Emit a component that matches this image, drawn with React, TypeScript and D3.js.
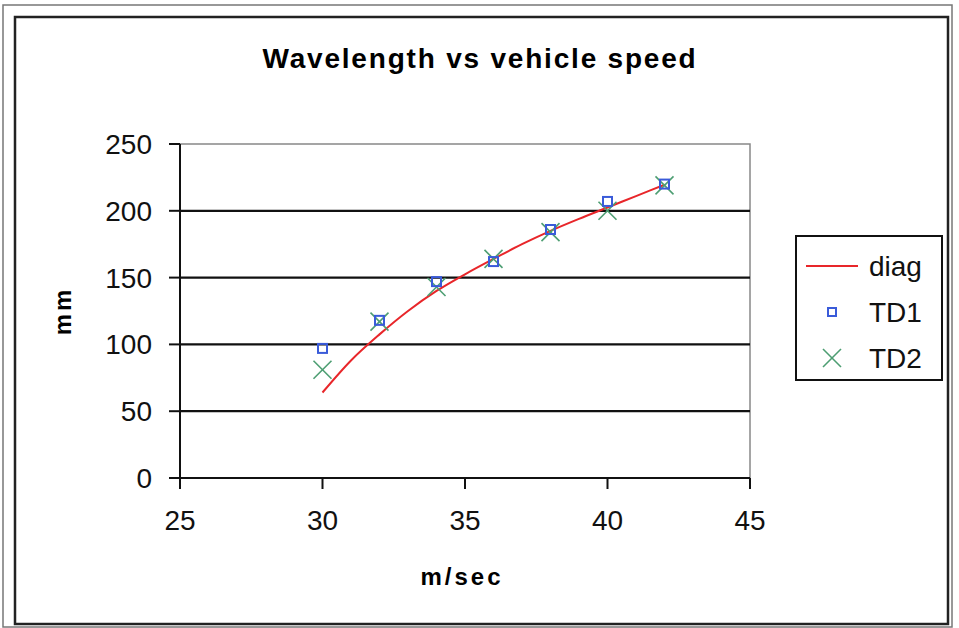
import React from "react";
import * as d3 from "d3";

const xTicks = [25, 30, 35, 40, 45];
const yTicks = [0, 50, 100, 150, 200, 250];

const td1X = [30, 32, 34, 36, 38, 40, 42];
const td1Y = [97, 118, 147, 162, 186, 207, 220];

const td2X = [30, 32, 34, 36, 38, 40, 42];
const td2Y = [81, 117, 143, 164, 184, 200, 219];

const diagX = [30, 31, 32, 33, 34, 35, 36, 37, 38, 39, 40, 41, 42];
const diagY = [64, 88, 107.5, 125, 140, 152.5, 164, 175, 185, 194, 202.5, 211, 219.5];

const legendLabels = ["diag", "TD1", "TD2"];

const FONT = "'Liberation Sans', Arial, sans-serif";

export default function App() {
  const x = d3.scaleLinear().domain([25, 45]).range([180, 750]);
  const y = d3.scaleLinear().domain([0, 250]).range([478, 144]);

  const line = d3
    .line<number>()
    .x((d, i) => x(diagX[i]))
    .y((d) => y(d))
    .curve(d3.curveMonotoneX);

  const red = "#e8262a";
  const blue = "#3a5bd9";
  const green = "#4d9e72";

  const sq = 9;
  const xs = 9;

  return (
    <svg
      width={959}
      height={628}
      style={{ position: "absolute", left: 0, top: 0, background: "#fff" }}
    >
      <rect x={0} y={0} width={959} height={628} fill="#fff" />
      {/* outer frames */}
      <rect x={3} y={5} width={949} height={622} fill="none" stroke="#777" strokeWidth={1.5} />
      <rect x={15} y={17} width={933} height={607} fill="#fff" stroke="#222" strokeWidth={2.5} />

      {/* title */}
      <text
        x={480}
        y={68}
        textAnchor="middle"
        fontFamily={FONT}
        fontWeight="bold"
        fontSize={28}
        letterSpacing={1.8}
      >
        Wavelength vs vehicle speed
      </text>

      {/* plot area border */}
      <rect x={180} y={144} width={570} height={334} fill="none" stroke="#888" strokeWidth={1.5} />

      {/* gridlines */}
      {yTicks
        .filter((t) => t > 0 && t < 250)
        .map((t) => (
          <line key={"g" + t} x1={180} x2={750} y1={y(t)} y2={y(t)} stroke="#111" strokeWidth={2.2} />
        ))}

      {/* y axis */}
      <line x1={180} x2={180} y1={144} y2={478} stroke="#111" strokeWidth={2} />
      {yTicks.map((t) => (
        <g key={"y" + t}>
          <line x1={169} x2={180} y1={y(t)} y2={y(t)} stroke="#111" strokeWidth={2} />
          <text
            x={152}
            y={y(t) + 10}
            textAnchor="end"
            fontFamily={FONT}
            fontSize={28}
            fill="#111"
          >
            {t}
          </text>
        </g>
      ))}

      {/* x axis */}
      <line x1={180} x2={750} y1={478} y2={478} stroke="#111" strokeWidth={2} />
      {xTicks.map((t) => (
        <g key={"x" + t}>
          <line x1={x(t)} x2={x(t)} y1={478} y2={489} stroke="#111" strokeWidth={2} />
          <text
            x={x(t)}
            y={530}
            textAnchor="middle"
            fontFamily={FONT}
            fontSize={28}
            fill="#111"
          >
            {t}
          </text>
        </g>
      ))}

      {/* axis titles */}
      <text
        x={462}
        y={585}
        textAnchor="middle"
        fontFamily={FONT}
        fontWeight="bold"
        fontSize={24}
        letterSpacing={3}
      >
        m/sec
      </text>
      <text
        transform="translate(71,311) rotate(-90)"
        textAnchor="middle"
        fontFamily={FONT}
        fontWeight="bold"
        fontSize={24}
        letterSpacing={3}
      >
        mm
      </text>

      {/* diag line */}
      <path d={line(diagY) || ""} fill="none" stroke={red} strokeWidth={2} />

      {/* TD2 markers */}
      {td2Y.map((v, i) => (
        <g key={"t2" + i} stroke={green} strokeWidth={1.6}>
          <line x1={x(td2X[i]) - xs} x2={x(td2X[i]) + xs} y1={y(v) - xs} y2={y(v) + xs} />
          <line x1={x(td2X[i]) - xs} x2={x(td2X[i]) + xs} y1={y(v) + xs} y2={y(v) - xs} />
        </g>
      ))}

      {/* TD1 markers */}
      {td1Y.map((v, i) => (
        <rect
          key={"t1" + i}
          x={x(td1X[i]) - sq / 2}
          y={y(v) - sq / 2}
          width={sq}
          height={sq}
          fill="none"
          stroke={blue}
          strokeWidth={2}
        />
      ))}

      {/* legend */}
      <rect x={796} y={236} width={146} height={144} fill="#fff" stroke="#111" strokeWidth={2} />
      {legendLabels.map((l, i) => {
        const cy = 266 + i * 46;
        return (
          <g key={l}>
            {i === 0 && <line x1={806} x2={858} y1={cy} y2={cy} stroke={red} strokeWidth={2} />}
            {i === 1 && (
              <rect x={832 - 4} y={cy - 4} width={8} height={8} fill="none" stroke={blue} strokeWidth={2} />
            )}
            {i === 2 && (
              <g stroke={green} strokeWidth={1.6}>
                <line x1={823} x2={841} y1={cy - 9} y2={cy + 9} />
                <line x1={823} x2={841} y1={cy + 9} y2={cy - 9} />
              </g>
            )}
            <text x={869} y={cy + 10} fontFamily={FONT} fontSize={28} fill="#111">
              {l}
            </text>
          </g>
        );
      })}
    </svg>
  );
}
